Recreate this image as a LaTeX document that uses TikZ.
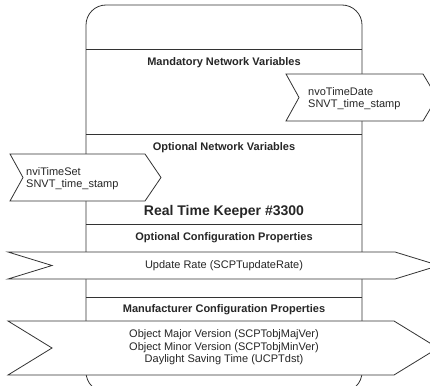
\documentclass[tikz,border=0pt]{standalone}
\usepackage{fontspec}
\setmainfont{Liberation Sans}
\usetikzlibrary{positioning}
\tikzset{
    body/.style={
           draw=black!80, line width=0.8pt,
           rounded corners=20pt,
           },
    divider/.style={
           draw=black!80, line width=0.8pt,
           },
    banner/.style={
           draw=black!80, line width=0.8pt,
           fill=white,
           },
    heading/.style={
           font=\fontsize{11}{12.5}\selectfont\bfseries,
           text=black!85,
           inner sep=0pt,
           },
    label/.style={
           font=\fontsize{11}{12.5}\selectfont,
           text=black!85,
           inner sep=0pt,
           },
}

\begin{document}
\begin{tikzpicture}[x=1pt,y=-1pt]

 % picture frame, cuts off the lower end of the body
 \useasboundingbox (0,0) rectangle (430,385);
 \clip (0,0) rectangle (430,385);

 % body of the block with its section lines
 \draw[body] (86,5) rectangle (362,392);
 \draw[divider] (86,49)  -- (362,49);
 \draw[divider] (86,134) -- (362,134);
 \draw[divider] (86,224) -- (362,224);
 \draw[divider] (86,297) -- (362,297);

 % section headings
 \node[heading] (Mandatory) at (224,63)  {Mandatory Network Variables};
 \node[heading] (Optional)  at (224,148) {Optional Network Variables};
 \node[heading,
  font=\fontsize{14}{16}\selectfont\bfseries] (Keeper) at (224,212)
  {Real Time Keeper \#3300};
 \node[heading] (OptConfig) at (224,238) {Optional Configuration Properties};
 \node[heading] (MfgConfig) at (224,310) {Manufacturer Configuration Properties};

 % output variable (right side)
 \draw[banner] (286,74) -- (423,74) -- (437,97.5) -- (423,121)
  -- (286,121) -- (299,97.5) -- cycle;
 \node[label, align=left, anchor=west] (nvoTimeDate) at (308,98.5)
  {nvoTimeDate\\SNVT\_time\_stamp};

 % input variable (left side)
 \draw[banner] (10,154) -- (145,154) -- (161,177.5) -- (145,201)
  -- (10,201) -- (23,177.5) -- cycle;
 \node[label, align=left, anchor=west] (nviTimeSet) at (26,178.5)
  {nviTimeSet\\SNVT\_time\_stamp};

 % configuration properties
 \draw[banner] (8,252) -- (395,252) -- (439,265.5) -- (395,279)
  -- (8,279) -- (52,265.5) -- cycle;
 \node[label] (UpdateRate) at (224,266) {Update Rate (SCPTupdateRate)};

 \draw[banner] (8,321) -- (394,321) -- (438,348) -- (394,375)
  -- (8,375) -- (52,348) -- cycle;
 \node[label, align=center] (Versions) at (224,347.5)
  {Object Major Version (SCPTobjMajVer)\\
   Object Minor Version (SCPTobjMinVer)\\
   Daylight Saving Time (UCPTdst)};

\end{tikzpicture}
\end{document}
